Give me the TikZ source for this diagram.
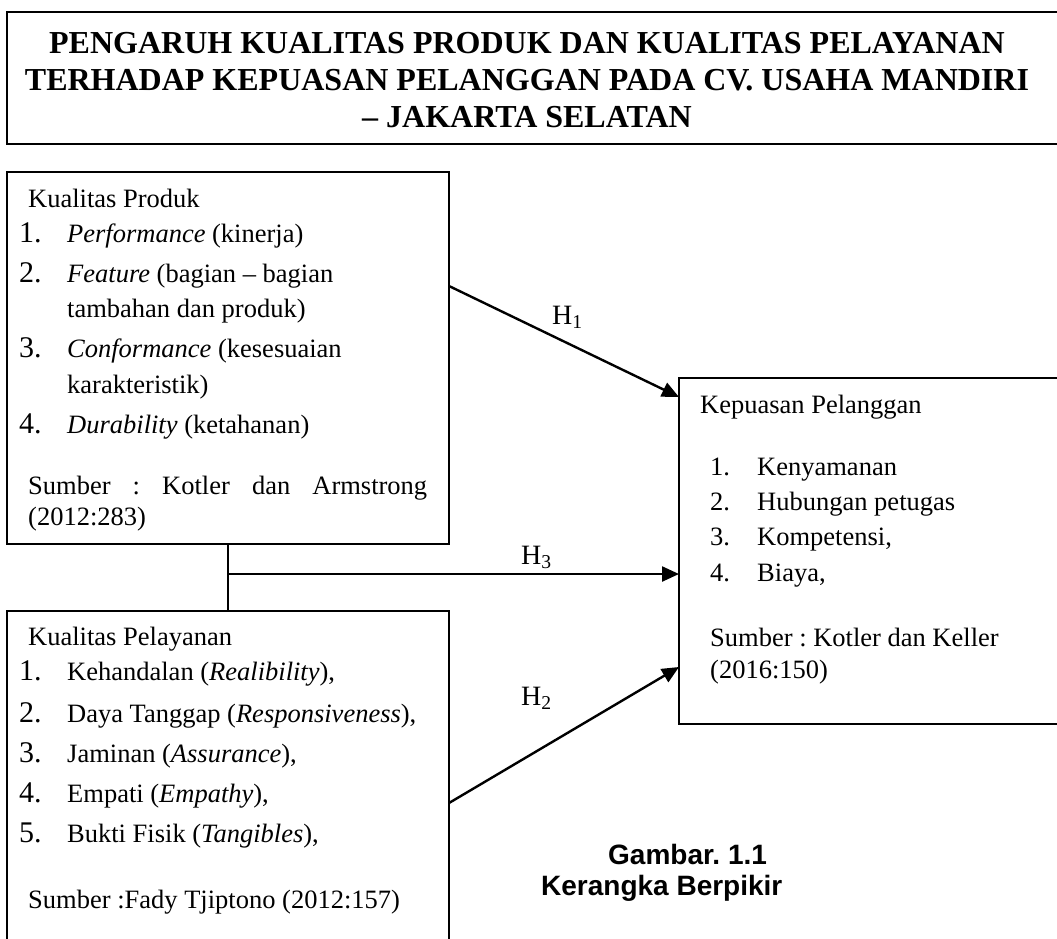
\documentclass[tikz,border=0pt]{standalone}
\usepackage{fontspec}
\setmainfont{Liberation Serif}
\newfontfamily\dArial{Liberation Sans}
\usetikzlibrary{arrows.meta}
\frenchspacing
\newcommand\dBody{\fontsize{26.5}{30}\selectfont}
\newcommand\dNum{\fontsize{30}{32}\selectfont}
\newcommand\dTitle{\fontsize{32}{37}\selectfont\bfseries}
\newcommand\dCap{\dArial\bfseries\fontsize{28}{32}\selectfont}
\newcommand\dH{\fontsize{28}{30}\selectfont}
\tikzset{
  diabox/.style={draw, line width=1.8pt, inner sep=0pt, outer sep=0pt, anchor=north west},
  txt/.style={anchor=base west, inner sep=0pt, font=\dBody},
  numtxt/.style={anchor=base west, inner sep=0pt, font=\dNum},
  ttl/.style={anchor=base, inner sep=0pt, font=\dTitle},
  captxt/.style={anchor=base west, inner sep=0pt, font=\dCap},
  hlab/.style={anchor=base west, inner sep=0pt, font=\dH},
  arr/.style={line width=2.4pt, -{Triangle[length=17pt,width=15pt]}},
  plain/.style={line width=2pt}
}
\begin{document}
\begin{tikzpicture}[x=1pt,y=-1pt]
\clip (0,0) rectangle (1057,938);
\fill[white] (0,0) rectangle (1057,938);
% title
\node[diabox, minimum width=1080pt, minimum height=132pt, line width=2.2pt] (title) at (7,12) {};
\node[ttl] (t1) at (527,53) {PENGARUH KUALITAS PRODUK DAN KUALITAS PELAYANAN};
\node[ttl] (t2) at (527,90) {TERHADAP KEPUASAN PELANGGAN PADA CV. USAHA MANDIRI};
\node[ttl] (t3) at (527,127) {– JAKARTA SELATAN};
% box 1
\node[diabox, minimum width=442pt, minimum height=372pt] (kp) at (7,172) {};
\node[txt] (kph) at (28,207) {Kualitas Produk};
\node[numtxt] (kpn1) at (19,242) {1.};
\node[txt] (kpi1) at (67,242) {\textit{Performance} (kinerja)};
\node[numtxt] (kpn2) at (19,282) {2.};
\node[txt] (kpi2) at (67,282) {\textit{Feature} (bagian – bagian};
\node[txt] (kpi2b) at (67,317) {tambahan dan produk)};
\node[numtxt] (kpn3) at (19,357) {3.};
\node[txt] (kpi3) at (67,357) {\textit{Conformance} (kesesuaian};
\node[txt] (kpi3b) at (67,393) {karakteristik)};
\node[numtxt] (kpn4) at (19,433) {4.};
\node[txt] (kpi4) at (67,433) {\textit{Durability} (ketahanan)};
\node[txt] (kps1) at (28,494) {\makebox[399pt][s]{Sumber : Kotler dan Armstrong}};
\node[txt] (kps2) at (28,525) {(2012:283)};
% box 2
\node[diabox, minimum width=442pt, minimum height=400pt] (kpl) at (7,611) {};
\node[txt] (kplh) at (28,645) {Kualitas Pelayanan};
\node[numtxt] (kpln1) at (19,680) {1.};
\node[txt] (kpli1) at (67,680) {Kehandalan (\textit{Realibility}),};
\node[numtxt] (kpln2) at (19,722) {2.};
\node[txt] (kpli2) at (67,722) {Daya Tanggap (\textit{Responsiveness}),};
\node[numtxt] (kpln3) at (19,762) {3.};
\node[txt] (kpli3) at (67,762) {Jaminan (\textit{Assurance}),};
\node[numtxt] (kpln4) at (19,802) {4.};
\node[txt] (kpli4) at (67,802) {Empati (\textit{Empathy}),};
\node[numtxt] (kpln5) at (19,842) {5.};
\node[txt] (kpli5) at (67,842) {Bukti Fisik (\textit{Tangibles}),};
\node[txt] (kpls) at (28,908) {Sumber :Fady Tjiptono (2012:157)};
% box 3
\node[diabox, minimum width=420pt, minimum height=346pt] (kep) at (679,378) {};
\node[txt] (keph) at (700,413) {Kepuasan Pelanggan};
\node[txt] (kepn1) at (710,475) {1.};
\node[txt] (kepi1) at (757,475) {Kenyamanan};
\node[txt] (kepn2) at (710,510) {2.};
\node[txt] (kepi2) at (757,510) {Hubungan petugas};
\node[txt] (kepn3) at (710,545) {3.};
\node[txt] (kepi3) at (757,545) {Kompetensi,};
\node[txt] (kepn4) at (710,581) {4.};
\node[txt] (kepi4) at (757,581) {Biaya,};
\node[txt] (keps1) at (710,646) {Sumber : Kotler dan Keller};
\node[txt] (keps2) at (710,678) {(2016:150)};
% connectors
\coordinate (h1s) at (kp.east |- 0,286);
\coordinate (h1e) at (kep.west |- 0,397);
\coordinate (h2s) at (kpl.east |- 0,803);
\coordinate (h2e) at (kep.west |- 0,667);
\coordinate (j) at (kp.south |- 0,574);
\draw[plain] (kp.south) -- (kpl.north);
\draw[arr] (h1s) -- (h1e);
\draw[arr] (j) -- (j -| kep.west);
\draw[arr] (h2s) -- (h2e);
\node[hlab] (H1) at (552,324) {H\textsubscript{1}};
\node[hlab] (H3) at (521,564) {H\textsubscript{3}};
\node[hlab] (H2) at (521,705) {H\textsubscript{2}};
% caption
\node[captxt] (g1) at (608,864) {Gambar. 1.1};
\node[captxt] (g2) at (541,895) {Kerangka Berpikir};
\end{tikzpicture}
\end{document}
